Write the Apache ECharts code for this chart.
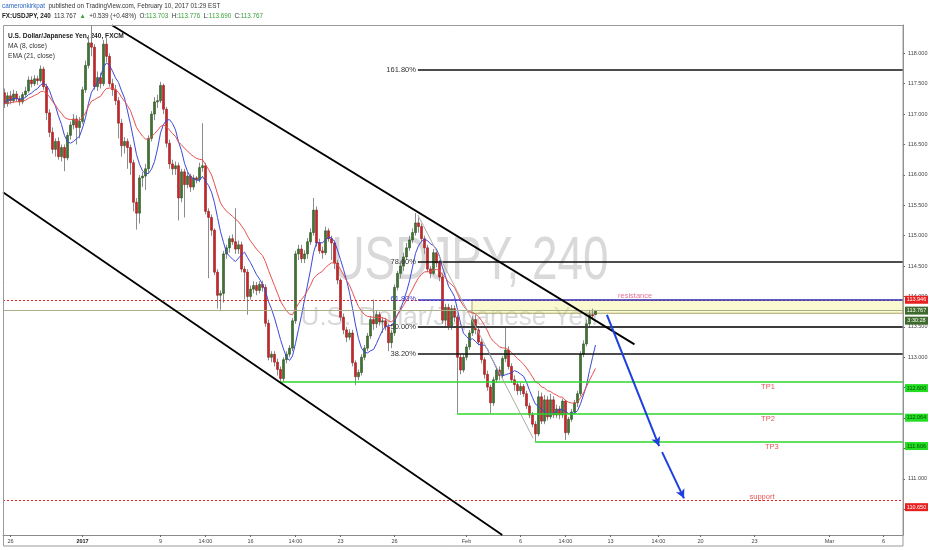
<!DOCTYPE html>
<html><head><meta charset="utf-8">
<script src="https://cdn.jsdelivr.net/npm/echarts@6/dist/echarts.min.js"></script>
<style>html,body{margin:0;padding:0;background:#fff}#c{width:932px;height:550px}</style>
</head><body><div id="c"></div>
<script>
// ---- data: 4H candles [open, close, low, high] ----
const candles = [
[117.35,117.17,117.10,117.42],[117.17,117.30,117.12,117.36],[117.30,117.22,117.16,117.38],[117.22,117.33,117.18,117.40],
[117.33,117.25,117.20,117.38],[117.25,117.20,117.14,117.30],[117.20,117.32,117.16,117.36],[117.32,117.38,117.28,117.45],
[117.38,117.56,117.35,117.62],[117.56,117.50,117.44,117.62],[117.50,117.58,117.46,117.64],[117.58,117.55,117.48,117.63],
[117.55,117.74,117.52,117.80],[117.74,117.45,117.40,117.78],[117.45,117.02,116.90,117.50],[117.02,116.70,116.62,117.08],
[116.70,116.42,116.35,116.78],[116.42,116.55,116.30,116.60],[116.55,116.30,116.25,116.62],[116.30,116.45,116.22,116.50],
[116.45,116.28,116.06,116.50],[116.28,116.65,116.24,116.70],[116.65,116.82,116.58,116.88],[116.82,116.92,116.75,117.00],
[116.92,116.78,116.50,116.98],[116.78,116.88,116.60,116.95],[116.88,117.40,116.84,117.45],[117.40,117.80,117.35,117.88],
[117.80,118.17,117.75,118.30],[118.17,118.10,117.95,118.45],[118.10,117.45,117.40,118.15],[117.45,117.60,117.38,117.70],
[117.60,117.50,117.42,117.68],[117.50,118.15,117.46,118.22],[118.15,117.95,117.85,118.25],[117.95,117.50,117.45,118.00],
[117.50,117.40,117.30,117.58],[117.40,117.22,117.15,117.48],[117.22,116.85,116.60,117.28],[116.85,116.48,116.30,116.92],
[116.48,116.55,116.35,116.62],[116.55,116.45,116.10,116.60],[116.45,116.20,116.00,116.50],[116.20,115.55,115.40,116.25],
[115.55,115.37,115.10,115.62],[115.37,115.95,115.20,116.00],[115.95,115.98,115.80,116.05],[115.98,116.10,115.75,116.18],
[116.10,116.60,116.02,116.65],[116.60,117.00,116.55,117.05],[117.00,117.20,116.90,117.28],[117.20,117.22,117.10,117.32],
[117.22,117.47,117.18,117.53],[117.47,117.08,117.00,117.50],[117.08,116.52,116.45,117.12],[116.52,116.18,116.10,116.58],
[116.18,116.10,116.00,116.25],[116.10,116.15,116.00,116.22],[116.15,115.62,115.25,116.20],[115.62,116.05,115.55,116.10],
[116.05,115.84,115.30,116.10],[115.84,115.98,115.78,116.05],[115.98,115.80,115.72,116.02],[115.80,115.95,115.75,116.00],
[115.95,115.92,115.86,115.98],[115.92,116.12,115.88,116.20],[116.12,116.15,116.05,116.85],[116.15,115.40,115.35,116.20],
[115.40,115.30,114.30,115.45],[115.30,115.09,115.00,115.35],[115.09,114.40,114.35,115.12],[114.40,114.02,113.80,114.45],
[114.02,114.05,113.78,114.10],[114.05,114.70,113.90,114.75],[114.70,114.80,114.62,114.85],[114.80,114.95,114.72,115.00],
[114.95,114.90,114.85,115.02],[114.90,114.78,114.70,115.45],[114.78,114.85,114.70,114.92],[114.85,114.45,114.40,114.90],
[114.45,114.40,113.95,114.50],[114.40,114.00,113.70,114.45],[114.00,114.12,113.95,114.18],[114.12,114.18,114.05,114.25],
[114.18,114.10,114.02,114.24],[114.10,114.20,114.05,114.25],[114.20,114.15,114.08,114.26],[114.15,113.56,113.50,114.20],
[113.56,113.00,112.95,113.62],[113.00,113.05,112.92,113.10],[113.05,112.92,112.85,113.10],[112.92,112.80,112.70,112.98],
[112.80,112.65,112.58,112.85],[112.65,112.96,112.60,113.00],[112.96,113.05,112.90,113.10],[113.05,113.15,113.00,113.20],
[113.15,113.60,113.10,113.65],[113.60,114.70,113.55,114.75],[114.70,114.78,114.60,114.85],[114.78,114.62,114.55,114.85],
[114.62,114.70,114.55,114.76],[114.70,114.90,114.62,114.96],[114.90,115.05,114.85,115.12],[115.05,115.42,115.00,115.62],
[115.42,114.88,114.82,115.48],[114.88,114.75,114.70,114.95],[114.75,114.72,114.62,114.82],[114.72,115.08,114.68,115.15],
[115.08,114.95,114.90,115.12],[114.95,114.88,114.60,115.00],[114.88,114.55,114.45,114.92],[114.55,114.27,114.20,114.60],
[114.27,113.66,113.60,114.30],[113.66,113.45,113.38,113.72],[113.45,113.33,113.25,113.50],[113.33,113.40,113.28,113.46],
[113.40,112.91,112.85,113.45],[112.91,112.68,112.54,112.95],[112.68,112.75,112.62,112.80],[112.75,113.00,112.70,113.05],
[113.00,113.15,112.95,113.20],[113.15,113.35,113.10,113.40],[113.35,113.62,113.30,113.68],[113.62,113.55,113.45,113.95],
[113.55,113.70,113.48,113.78],[113.70,113.58,113.52,113.75],[113.58,113.60,113.40,113.66],[113.60,113.50,113.44,113.65],
[113.50,113.24,113.10,113.55],[113.24,113.40,113.15,113.45],[113.40,114.15,113.35,114.20],[114.15,114.38,114.10,114.42],
[114.38,114.50,114.30,114.58],[114.50,114.65,114.42,114.72],[114.65,114.80,114.60,114.88],[114.80,114.93,114.75,115.00],
[114.93,115.05,114.88,115.12],[115.05,115.21,115.00,115.37],[115.21,115.15,115.05,115.30],[115.15,114.95,114.90,115.20],
[114.95,114.80,114.70,115.00],[114.80,114.45,114.40,114.85],[114.45,114.38,114.30,114.50],[114.38,114.72,114.35,114.78],
[114.72,114.55,114.48,114.78],[114.55,114.32,114.25,114.60],[114.32,113.61,113.55,114.38],[113.61,113.82,113.50,113.88],
[113.82,113.50,113.45,113.88],[113.50,113.80,113.45,113.86],[113.80,113.66,113.58,113.85],[113.66,113.00,112.08,113.70],
[113.00,112.79,112.72,113.05],[112.79,113.00,112.75,113.05],[113.00,113.17,112.95,113.22],[113.17,113.40,113.12,113.45],
[113.40,113.62,113.35,113.68],[113.62,113.45,113.38,113.70],[113.45,113.25,113.20,113.50],[113.25,112.96,112.90,113.30],
[112.96,112.72,112.65,113.00],[112.72,112.51,112.45,112.78],[112.51,112.25,112.08,112.55],[112.25,112.63,112.20,112.68],
[112.63,112.79,112.58,112.85],[112.79,112.70,112.62,112.85],[112.70,112.98,112.65,113.02],[112.98,113.12,112.92,113.50],
[113.12,112.85,112.80,113.18],[112.85,112.63,112.58,112.90],[112.63,112.55,112.45,112.70],[112.55,112.45,112.38,112.60],
[112.45,112.52,112.38,112.58],[112.52,112.40,112.35,112.56],[112.40,112.20,112.15,112.45],[112.20,112.05,112.00,112.25],
[112.05,111.90,111.85,112.10],[111.90,111.74,111.62,111.95],[111.74,112.35,111.70,112.45],[112.35,111.95,111.90,112.42],
[111.95,112.30,111.90,112.38],[112.30,112.02,111.96,112.36],[112.02,112.30,111.98,112.40],[112.30,112.05,112.00,112.36],
[112.05,112.15,112.00,112.22],[112.15,112.05,111.98,112.20],[112.05,112.28,112.00,112.32],[112.28,111.76,111.64,112.30],
[111.76,111.98,111.72,112.02],[111.98,112.10,111.94,112.15],[112.10,112.25,112.06,112.30],[112.25,112.40,112.18,112.45],
[112.40,113.05,112.36,113.10],[113.05,113.22,113.00,113.28],[113.22,113.55,113.18,113.62],[113.55,113.70,113.50,113.78],
[113.70,113.68,113.62,113.80],[113.703,113.767,113.690,113.776]
];
const slotCount = 300;                       // 4H slots incl. future space
const tickIdx  = [2,26,52,67,82,97,112,130,154,172,187,202,218,232,250,275,293];
const tickText = ['26','2017','9','14:00','16','14:00','23','26','Feb','6','14:00','13','14:00','20','23','Mar','6'];
const yMin = 110.077, yMax = 118.465;

// drawings (slot index, price)
const fibLevels = [117.725, 114.572, 113.954, 113.503, 113.060];
const fibLabels = ['161.80%','78.60%','61.80%','50.00%','38.20%'];
const fibStart = 137.8;
const channelUpper = [[35.83,118.462],[210,113.212]];
const channelLower = [[-0.5,115.716],[165.93,110.077]];
const thinLine = [[137.8,115.34],[176.2,111.67]];
const arrow1 = [[200.8,113.696],[218.2,111.54]];
const arrow2 = [[219.2,111.44],[226.5,110.68]];
const resistance = 113.946, support = 110.650, lastPrice = 113.767;
const tpLevels = [112.600, 112.064, 111.606];
const tpStarts = [91.8, 150.8, 176.8];
const zone = [[155.83,113.944],[299.5,113.724]];
const textMarks = [
  {name:'resistance', value:[210.2,114.01], color:'#e0507a'},
  {name:'TP1', value:[254.5,112.52], color:'#e02828'},
  {name:'TP2', value:[254.5,111.99], color:'#e02828'},
  {name:'TP3', value:[255.8,111.53], color:'#e02828'},
  {name:'support', value:[252.5,110.70], color:'#e02828'}
];
const boxes = [
  {text:'113.946', price:113.946, bg:'#e8211f', fg:'#fff', dy:0},
  {text:'113.767', price:113.767, bg:'#3e6a2c', fg:'#fff', dy:0},
  {text:'3:30:28', price:113.767, bg:'#3e6a2c', fg:'#fff', dy:10},
  {text:'112.600', price:112.600, bg:'#22dd22', fg:'#0b4d0b', dy:6.5},
  {text:'112.064', price:112.064, bg:'#22dd22', fg:'#0b4d0b', dy:3.5},
  {text:'111.606', price:111.606, bg:'#22dd22', fg:'#0b4d0b', dy:4},
  {text:'110.650', price:110.650, bg:'#e8211f', fg:'#fff', dy:7}
];

// ---- derived ----
const categories = Array.from({length: slotCount}, (_, i) => String(i));
const bodies = candles.map(c => [c[0], c[1], Math.min(c[0], c[1]), Math.max(c[0], c[1])]);
const closes = candles.map(c => c[1]);
const ma8 = closes.map((_, i) => { const s = closes.slice(Math.max(0, i - 7), i + 1); return +(s.reduce((a, b) => a + b, 0) / s.length).toFixed(3); });
let ev; const ema21 = closes.map(c => { ev = ev === undefined ? c : ev + (c - ev) * 2 / 22; return +ev.toFixed(3); });
const showTick = (i) => tickIdx.indexOf(i) >= 0;

function seg(a, b, style, extra) {
  const st = Object.assign({type: 'solid'}, style);
  return [Object.assign({coord: a, symbol: 'none', lineStyle: st}, extra || {}), {coord: b, symbol: 'none', lineStyle: st}];
}
const markLines = [];
markLines.push(seg([-0.5, resistance], [299.5, resistance], {color:'#e02020', width:1.2, type:[2,2]}));
markLines.push(seg([-0.5, support], [299.5, support], {color:'#e02020', width:1.2, type:[2,2]}));
markLines.push(seg([-0.5, lastPrice], [299.5, lastPrice], {color:'#a7b088', width:1}));
fibLevels.forEach((lv, k) => {
  const col = k === 2 ? '#3a3ac8' : (k === 3 ? '#3c3c3c' : '#111');
  markLines.push(seg([fibStart, lv], [299.5, lv], {color: col, width: k === 3 ? 2 : 1.5},
    {label:{show:true, position:'start', formatter: fibLabels[k], color: k === 2 ? '#3a3ac8' : '#333', fontSize:7.5, distance:2}}));
});
tpLevels.forEach((lv, k) => markLines.push(seg([tpStarts[k], lv], [299.5, lv], {color:'#2bd82b', width:1.5})));
markLines.push(seg(channelUpper[0], channelUpper[1], {color:'#000', width:1.8}));
markLines.push(seg(channelLower[0], channelLower[1], {color:'#000', width:1.8}));
markLines.push(seg(thinLine[0], thinLine[1], {color:'#b3aaa0', width:1}));
[arrow1, arrow2].forEach(a => markLines.push([
  {coord:a[0], symbol:'none', lineStyle:{color:'#1d3fe0', width:2, type:'solid'}},
  {coord:a[1], symbol:'arrow', symbolSize:[7,9], lineStyle:{color:'#1d3fe0', width:2, type:'solid'}}
]));

const markPoints = boxes.map(b => ({
  coord: [299.5, b.price], symbol: 'rect', symbolSize: [23, 8], symbolOffset: [13.5, b.dy],
  itemStyle: {color: b.bg},
  label: {show: true, position: 'inside', formatter: b.text, color: b.fg, fontSize: 5.5, fontFamily: 'Liberation Sans'}
}));

const chart = echarts.init(document.getElementById('c'), null, {renderer: 'canvas'});
chart.setOption({
  animation: false,
  backgroundColor: '#ffffff',
  textStyle: {fontFamily: 'Liberation Sans, Arial, sans-serif'},
  grid: {left: 3, right: 29, top: 25, bottom: 15, show: false},
  xAxis: [
    {type: 'category', data: categories, boundaryGap: true,
     axisLine: {onZero: false, lineStyle: {color: '#8a8a8a', width: 1}},
     axisTick: {show: true, interval: showTick, length: 2, alignWithLabel: true, lineStyle: {color: '#666'}},
     axisLabel: {interval: showTick, fontSize: 5.5, color: '#444', margin: 3,
       formatter: v => { const k = tickIdx.indexOf(+v); if (k < 0) return ''; return tickText[k] === '2017' ? '{b|2017}' : tickText[k]; },
       rich: {b: {fontWeight: 'bold', fontSize: 5.5, color: '#222'}}},
     splitLine: {show: false}},
    {type: 'value', min: -0.5, max: 299.5, show: false, axisLine: {onZero: false}}
  ],
  yAxis: {type: 'value', position: 'right', min: yMin, max: yMax, minInterval: 0.5, maxInterval: 0.5, scale: true,
    axisLine: {show: true, onZero: false, lineStyle: {color: '#8a8a8a'}},
    axisTick: {show: true, length: 2, lineStyle: {color: '#666'}},
    axisLabel: {fontSize: 5.5, color: '#444', margin: 5, showMinLabel: false, showMaxLabel: false, formatter: v => v.toFixed(3)},
    splitLine: {show: false}},
  graphic: [
    {type: 'text', x: 470, y: 262, scaleX: 0.74, z: -10, silent: true,
     style: {text: 'USDJPY, 240', fontSize: 62, fill: '#d9d9d9', textAlign: 'center', textVerticalAlign: 'middle', fontFamily: 'Liberation Sans'}},
    {type: 'text', x: 449, y: 318, z: -10, silent: true,
     style: {text: 'U.S. Dollar/Japanese Yen', fontSize: 26, fill: '#d9d9d9', textAlign: 'center', textVerticalAlign: 'middle', fontFamily: 'Liberation Sans'}},
    {type: 'rect', shape: {x: 3.5, y: 25.5, width: 899.5, height: 520.5}, style: {fill: 'none', stroke: '#9a9a9a', lineWidth: 1}, silent: true, z: 50},
    {type: 'text', x: 2, y: 6.5, silent: true,
     style: {text: '{a|cameronkirkpat} {b|published on TradingView.com, February 10, 2017 01:29 EST}', textVerticalAlign: 'middle',
       rich: {a: {fill: '#2a67c0', fontSize: 6.3, fontFamily: 'Liberation Sans'}, b: {fill: '#333', fontSize: 6.3, fontFamily: 'Liberation Sans'}}}},
    {type: 'text', x: 2, y: 16.7, silent: true,
     style: {text: '{k|FX:USDJPY, 240} {b|113.767} {g|▲} {b|+0.539 (+0.48%)} {b|O:}{g|113.703} {b|H:}{g|113.776} {b|L:}{g|113.690} {b|C:}{g|113.767}', textVerticalAlign: 'middle',
       rich: {k: {fill: '#222', fontSize: 6.3, fontWeight: 'bold', fontFamily: 'Liberation Sans'}, b: {fill: '#333', fontSize: 6.3, fontFamily: 'Liberation Sans'}, g: {fill: '#3aa03a', fontSize: 6.3, fontFamily: 'Liberation Sans'}}}},
    {type: 'text', x: 8, y: 36, silent: true, style: {text: 'U.S. Dollar/Japanese Yen, 240, FXCM', fill: '#222', fontSize: 6.6, fontWeight: 'bold', textVerticalAlign: 'middle', fontFamily: 'Liberation Sans'}},
    {type: 'text', x: 8, y: 46, silent: true, style: {text: 'MA (8, close)', fill: '#333', fontSize: 6.6, textVerticalAlign: 'middle', fontFamily: 'Liberation Sans'}},
    {type: 'text', x: 8, y: 56, silent: true, style: {text: 'EMA (21, close)', fill: '#333', fontSize: 6.6, textVerticalAlign: 'middle', fontFamily: 'Liberation Sans'}}
  ],
  series: [
    {type: 'candlestick', name: 'wick', data: candles, barWidth: 1, z: 2,
     itemStyle: {color: '#8c8c8c', color0: '#8c8c8c', borderColor: '#8c8c8c', borderColor0: '#8c8c8c', borderWidth: 1}},
    {type: 'candlestick', name: 'body', data: bodies, barWidth: 2, z: 3,
     itemStyle: {color: '#3f7331', color0: '#c8252a', borderColor: '#2c5522', borderColor0: '#9c1c1c', borderWidth: 0.6}},
    {type: 'line', name: 'MA (8, close)', data: ma8, symbol: 'none', z: 4, lineStyle: {color: '#3b48d8', width: 1}},
    {type: 'line', name: 'EMA (21, close)', data: ema21, symbol: 'none', z: 4, lineStyle: {color: '#e8504f', width: 1}},
    {type: 'line', name: 'drawings', xAxisIndex: 1, data: [], z: 5, clip: false,
     markArea: {silent: true, data: [[{coord: zone[0], itemStyle: {color: 'rgba(244,238,130,0.38)', borderColor: '#a8a86a', borderWidth: 1}}, {coord: zone[1]}]]},
     markLine: {silent: true, animation: false, symbol: ['none', 'none'], lineStyle: {type: 'solid'}, label: {show: false}, data: markLines},
     markPoint: {silent: true, animation: false, data: markPoints}},
    {type: 'scatter', name: 'labels', xAxisIndex: 1, symbolSize: 0, z: 6, silent: true,
     data: textMarks.map(t => ({name: t.name, value: t.value, label: {color: t.color}})),
     label: {show: true, position: 'inside', formatter: '{b}', fontSize: 7.5, fontFamily: 'Liberation Sans'}}
  ]
});
</script></body></html>
